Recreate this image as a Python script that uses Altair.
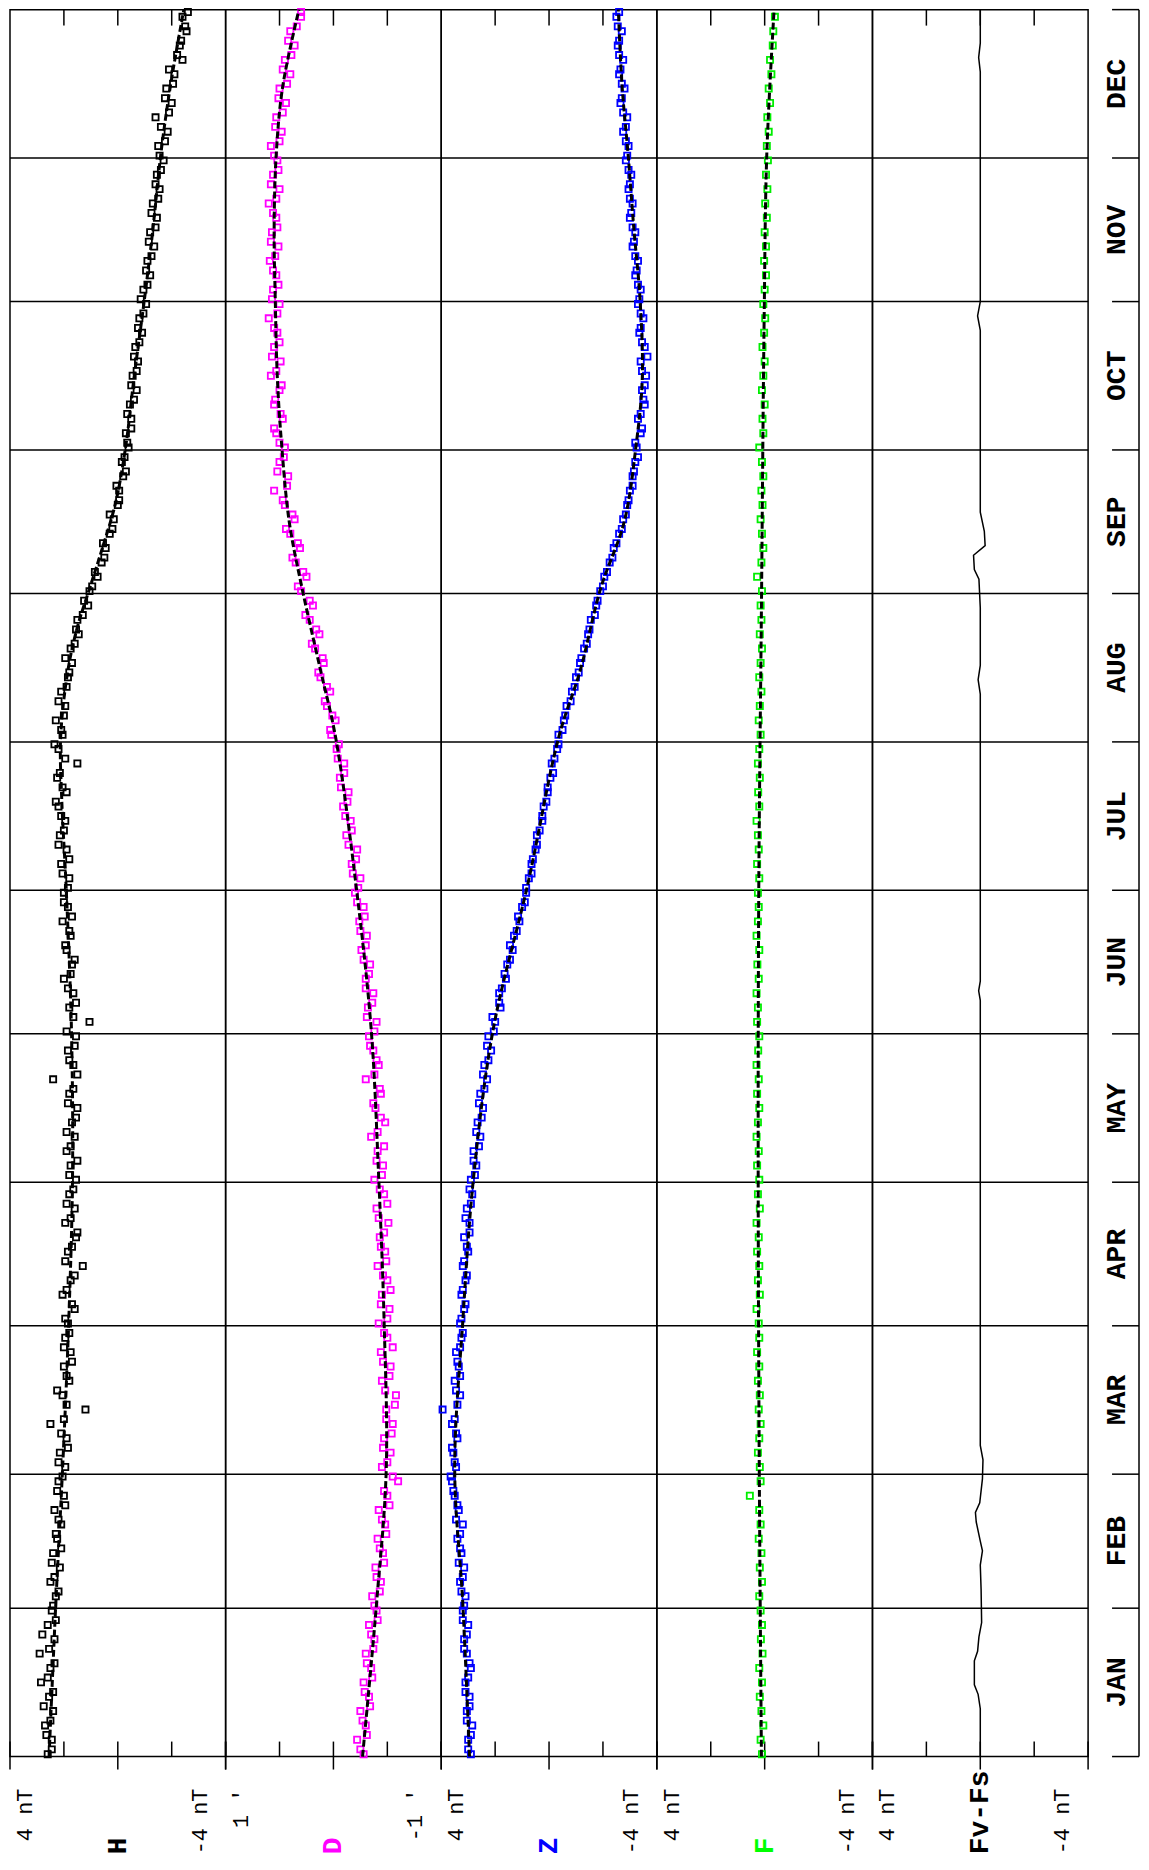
import altair as alt
import pandas as pd

# ---------------- data ----------------
MONTHS = ["JAN", "FEB", "MAR", "APR", "MAY", "JUN", "JUL", "AUG", "SEP", "OCT", "NOV", "DEC"]
MONTH_EDGES = [0, 31, 59, 90, 120, 151, 181, 212, 243, 273, 304, 334, 365]
MONTH_MID = [15.5, 45, 74.5, 105, 135.5, 166, 196.5, 227.5, 258, 288.5, 319, 349.5]

# daily baseline differences: set A sampled on days 1,4,7,...; set B on days 2,5,8,...
H_VALS = [2.6, 2.45, 2.7, 2.4, 2.55, 2.85, 2.5, 2.9, 2.35, 2.6,
          2.45, 2.3, 2.5, 2.15, 2.4, 2.25, 2.1, 2.35, 2.0, 2.2,
          1.95, 2.15, 1.9, 2.5, 1.2, 2.05, 1.8, 2.0, 1.75, 1.95,
          1.85, 1.6, 2.05, 1.75, 1.3, 1.85, 1.55, 1.95, 1.6, 1.8,
          1.55, 1.75, 1.9, 1.6, 1.7, 1.5, 1.8, 2.4, 1.65, 1.85,
          1.55, 1.05, 1.8, 1.65, 2.0, 1.7, 1.9, 1.75, 2.05, 1.85,
          2.0, 1.8, 2.1, 1.9, 2.15, 1.95, 2.2, 1.9, 2.25, 1.5,
          2.2, 2.05, 2.3, 1.95, 2.1, 1.85, 1.7, 1.75, 1.45, 1.5,
          1.1, 1.05, 0.75, 0.6, 0.45, 0.3, 0.15, 0.0, -0.05, -0.2,
          -0.15, -0.4, -0.3, -0.5, -0.45, -0.7, -0.55, -0.75, -0.65, -0.9,
          -0.8, -1.05, -0.95, -1.2, -1.1, -1.35, -1.2, -1.45, -1.3, -1.55,
          -1.45, -1.7, -1.5, -1.85, -1.4, -2.0, -1.8, -2.1, -2.4, -2.3,
          -2.55, -2.4]
H_VALS_B = [2.45, 2.65, 2.5, 2.75, 2.4, 2.6, 2.35, 2.55, 2.8, 2.3,
            2.4, 2.2, 2.35, 2.45, 2.1, 2.3, 2.2, 1.95, 2.25, 2.05,
            2.2, 1.85, 2.1, 2.0, 1.9, 2.25, 1.9, 1.7, 2.0, 1.8,
            1.95, 1.7, 1.9, 1.6, 1.95, 1.7, 1.5, 1.75, 1.9, 1.65,
            1.8, 1.5, 1.75, 1.9, 1.55, 1.85, 1.65, 1.5, 1.8, 1.6,
            1.9, 1.65, 1.55, 1.85, 1.75, 1.6, 1.95, 1.8, 1.7, 2.0,
            1.85, 2.05, 1.8, 2.2, 2.0, 2.1, 2.3, 2.05, 2.15, 1.95,
            2.35, 2.1, 2.0, 2.2, 1.9, 1.8, 1.95, 1.6, 1.55, 1.3,
            1.25, 0.95, 0.85, 0.5, 0.55, 0.2, 0.3, -0.05, 0.05, -0.3,
            -0.25, -0.35, -0.5, -0.35, -0.6, -0.5, -0.7, -0.6, -0.8, -0.75,
            -0.95, -0.85, -1.1, -1.05, -1.25, -1.15, -1.4, -1.25, -1.5, -1.4,
            -1.6, -1.55, -1.75, -1.6, -1.9, -1.75, -2.05, -1.9, -2.2, -2.35,
            -2.5, -2.6]
D_VALS = [-0.28, -0.22, -0.3, -0.25, -0.33, -0.28, -0.35, -0.3, -0.38, -0.33,
          -0.4, -0.36, -0.44, -0.39, -0.46, -0.41, -0.48, -0.42, -0.5, -0.6,
          -0.45, -0.53, -0.47, -0.55, -0.49, -0.58, -0.45, -0.53, -0.44, -0.5,
          -0.42, -0.52, -0.45, -0.5, -0.41, -0.48, -0.43, -0.51, -0.4, -0.47,
          -0.38, -0.46, -0.41, -0.35, -0.48, -0.39, -0.44, -0.3, -0.42, -0.37,
          -0.33, -0.4, -0.32, -0.37, -0.3, -0.34, -0.26, -0.31, -0.24, -0.28,
          -0.2, -0.25, -0.17, -0.22, -0.12, -0.16, -0.09, -0.14, -0.06, -0.1,
          -0.03, 0.02, -0.02, 0.06, 0.03, 0.12, 0.09, 0.17, 0.13, 0.22,
          0.19, 0.3, 0.25, 0.35, 0.31, 0.4, 0.36, 0.45, 0.55, 0.42,
          0.5, 0.45, 0.53, 0.47, 0.55, 0.5, 0.58, 0.49, 0.55, 0.52,
          0.6, 0.5, 0.56, 0.53, 0.59, 0.51, 0.57, 0.53, 0.6, 0.5,
          0.56, 0.52, 0.58, 0.48, 0.53, 0.44, 0.5, 0.4, 0.45, 0.36,
          0.4, 0.3]
D_VALS_B = [-0.25, -0.31, -0.27, -0.34, -0.29, -0.36, -0.31, -0.37, -0.35, -0.41,
            -0.38, -0.43, -0.4, -0.47, -0.43, -0.49, -0.45, -0.52, -0.47, -0.55,
            -0.5, -0.46, -0.54, -0.49, -0.57, -0.48, -0.52, -0.46, -0.55, -0.47,
            -0.5, -0.44, -0.53, -0.46, -0.49, -0.44, -0.47, -0.42, -0.5, -0.43,
            -0.45, -0.4, -0.47, -0.41, -0.44, -0.37, -0.43, -0.38, -0.4, -0.34,
            -0.38, -0.31, -0.36, -0.3, -0.33, -0.28, -0.3, -0.25, -0.29, -0.22,
            -0.23, -0.18, -0.21, -0.14, -0.17, -0.11, -0.13, -0.07, -0.1, -0.04,
            -0.05, 0.03, 0.01, 0.08, 0.06, 0.14, 0.1, 0.2, 0.16, 0.26,
            0.22, 0.33, 0.28, 0.38, 0.33, 0.44, 0.38, 0.47, 0.43, 0.52,
            0.46, 0.5, 0.55, 0.49, 0.54, 0.48, 0.53, 0.57, 0.5, 0.55,
            0.52, 0.57, 0.51, 0.56, 0.54, 0.58, 0.52, 0.56, 0.53, 0.58,
            0.51, 0.55, 0.5, 0.54, 0.47, 0.51, 0.43, 0.47, 0.39, 0.42,
            0.34, 0.3]
Z_VALS = [2.9, 3.0, 2.85, 3.05, 2.95, 3.1, 2.9, 3.05, 3.15, 3.0,
          3.2, 3.1, 3.3, 3.15, 3.25, 3.4, 3.2, 3.35, 3.5, 3.6,
          3.45, 3.55, 3.4, 3.6, 3.95, 3.3, 3.5, 3.35, 3.45, 3.25,
          3.3, 3.15, 3.25, 3.1, 3.2, 3.0, 3.15, 2.95, 3.05, 2.85,
          2.9, 2.7, 2.8, 2.55, 2.65, 2.45, 2.55, 2.3, 2.4, 2.15,
          2.25, 2.0, 1.8, 1.85, 1.6, 1.55, 1.35, 1.3, 1.1, 1.0,
          0.85, 0.75, 0.65, 0.5, 0.45, 0.25, 0.2, 0.05, -0.05, -0.1,
          -0.3, -0.35, -0.55, -0.65, -0.85, -1.0, -1.15, -1.3, -1.45, -1.55,
          -1.75, -1.9, -2.05, -2.25, -2.4, -2.6, -2.75, -2.9, -3.0, -3.1,
          -3.2, -3.25, -3.4, -3.3, -3.55, -3.45, -3.6, -3.4, -3.55, -3.35,
          -3.5, -3.3, -3.4, -3.2, -3.3, -3.1, -3.2, -3.0, -3.1, -2.95,
          -3.05, -2.85, -2.95, -2.75, -2.9, -2.65, -2.8, -2.6, -2.75, -2.55,
          -2.7, -2.5]
Z_VALS_B = [3.0, 2.9, 3.05, 2.95, 3.1, 3.0, 2.95, 3.15, 3.05, 3.2,
            3.15, 3.25, 3.2, 3.35, 3.3, 3.3, 3.45, 3.4, 3.55, 3.65,
            3.5, 3.6, 3.45, 3.5, 3.4, 3.45, 3.3, 3.4, 3.3, 3.2,
            3.25, 3.1, 3.2, 3.05, 3.15, 3.05, 2.95, 3.1, 2.9, 2.95,
            2.75, 2.8, 2.6, 2.7, 2.5, 2.6, 2.4, 2.45, 2.25, 2.3,
            2.05, 2.1, 1.85, 1.75, 1.65, 1.45, 1.45, 1.2, 1.15, 0.9,
            0.85, 0.65, 0.6, 0.45, 0.35, 0.25, 0.1, 0.05, -0.15, -0.2,
            -0.35, -0.5, -0.6, -0.8, -0.95, -1.1, -1.2, -1.4, -1.5, -1.7,
            -1.8, -2.0, -2.15, -2.35, -2.5, -2.7, -2.85, -2.95, -3.1, -3.15,
            -3.3, -3.2, -3.45, -3.4, -3.5, -3.55, -3.45, -3.65, -3.45, -3.4,
            -3.4, -3.35, -3.3, -3.25, -3.2, -3.15, -3.1, -3.05, -3.0, -3.0,
            -2.95, -2.9, -2.85, -2.85, -2.75, -2.7, -2.7, -2.65, -2.6, -2.6,
            -2.55, -2.6]
F_VALS = [0.1, 0.15, 0.05, 0.12, 0.18, 0.1, 0.2, 0.08, 0.14, 0.1,
          0.15, 0.2, 0.1, 0.18, 0.12, 0.22, 0.15, 0.2, 0.55, 0.15,
          0.18, 0.25, 0.2, 0.15, 0.22, 0.18, 0.25, 0.2, 0.28, 0.2,
          0.22, 0.3, 0.18, 0.25, 0.2, 0.28, 0.22, 0.3, 0.18, 0.25,
          0.2, 0.28, 0.22, 0.3, 0.25, 0.2, 0.28, 0.22, 0.3, 0.24,
          0.2, 0.28, 0.25, 0.3, 0.22, 0.27, 0.2, 0.3, 0.25, 0.22,
          0.25, 0.2, 0.28, 0.22, 0.25, 0.3, 0.2, 0.24, 0.18, 0.25,
          0.2, 0.15, 0.22, 0.18, 0.12, 0.2, 0.15, 0.1, 0.18, 0.12,
          0.15, 0.1, 0.28, 0.12, 0.05, 0.1, 0.15, 0.08, 0.12, 0.05,
          0.1, 0.2, 0.05, 0.08, 0.0, 0.1, 0.05, 0.0, 0.08, 0.02,
          -0.02, 0.05, 0.0, -0.05, 0.02, -0.05, 0.0, -0.08, -0.02, -0.1,
          -0.05, -0.12, -0.08, -0.15, -0.1, -0.2, -0.15, -0.25, -0.2, -0.3,
          -0.32, -0.38]

# smooth baseline fits (dashed)
H_FIT_DAYS = [0, 32, 60, 91, 121, 152, 182, 200, 213, 227, 236, 244, 252, 262, 274, 288, 305, 319, 335, 349, 365]
H_FIT = [2.55, 2.3, 2.05, 1.82, 1.68, 1.72, 1.92, 2.08, 2.12, 1.85, 1.5, 1.05, 0.6, 0.08, -0.3, -0.6, -1.0, -1.3, -1.6, -1.95, -2.45]
DZ_FIT_DAYS = [0, 32, 60, 91, 121, 152, 182, 213, 227, 244, 258, 274, 288, 305, 319, 335, 349, 365]
D_FIT = [-0.27, -0.4, -0.49, -0.47, -0.42, -0.35, -0.21, -0.02, 0.12, 0.29, 0.41, 0.48, 0.52, 0.54, 0.55, 0.53, 0.47, 0.32]
Z_FIT = [2.95, 3.2, 3.5, 3.2, 2.8, 2.07, 0.8, -0.36, -1.16, -1.91, -2.79, -3.23, -3.46, -3.37, -3.15, -2.93, -2.71, -2.57]
F_FIT_DAYS = [0, 60, 120, 180, 240, 300, 335, 365]
F_FIT = [0.12, 0.2, 0.24, 0.22, 0.12, 0.02, -0.08, -0.35]

# Fv - Fs difference
FS_DAYS = [0, 10, 13, 15, 20, 22, 25, 28, 35, 40, 43, 45, 49, 51, 53, 58, 62, 65, 90, 120,
           150, 158, 160, 162, 180, 200, 222, 225, 228, 240, 246, 248, 251, 253, 256, 260, 270, 298, 301, 304,
           330, 352, 355, 358, 365]
FS_VALS = [0.0, 0.0, 0.08, 0.22, 0.22, 0.1, 0.05, -0.05, -0.03, 0.0, -0.08, 0.0, 0.15, 0.18, 0.02, -0.08, -0.1, 0.0, 0.0, 0.0,
           0.0, 0.0, 0.06, 0.0, 0.0, 0.0, 0.0, 0.08, 0.0, 0.0, 0.05, 0.22, 0.25, -0.18, -0.15, 0.0, 0.0, 0.0, 0.1, 0.0,
           0.0, 0.0, 0.06, 0.0, 0.0]

# ---------------- layout ----------------
W = 216
HT = 1750
MW = 52
FONT = "Liberation Mono"
Y_SCALE = alt.Scale(domain=[0, 365], nice=False, zero=False)


def Ych(field="doy"):
    return alt.Y(f"{field}:Q", scale=Y_SCALE, axis=None)


def make_panel(lim, left_txt, right_txt, name, name_color,
               pts=None, pts_b=None, pt_color=None, fit=None, fs=None):
    xs = alt.Scale(domain=[lim, -lim], nice=False, zero=False)

    def Xch():
        return alt.X("v:Q", scale=xs, axis=None)

    layers = []
    grid_df = pd.DataFrame({"doy": MONTH_EDGES[1:-1]})
    layers.append(alt.Chart(grid_df).mark_rule(color="black", strokeWidth=1.5)
                  .encode(y=Ych(), x=alt.value(0), x2=alt.value(W)))
    major = pd.DataFrame({"v": [lim, 0, -lim]})
    layers.append(alt.Chart(major).mark_rule(color="black", strokeWidth=1.5)
                  .encode(x=Xch(), y=alt.value(HT - 15), y2=alt.value(HT + 13)))
    minor = pd.DataFrame({"v": [lim / 2, -lim / 2]})
    layers.append(alt.Chart(minor).mark_rule(color="black", strokeWidth=1.5)
                  .encode(x=Xch(), y=alt.value(HT - 15), y2=alt.value(HT)))
    top = pd.DataFrame({"v": [lim / 2, 0, -lim / 2]})
    layers.append(alt.Chart(top).mark_rule(color="black", strokeWidth=1.5)
                  .encode(x=Xch(), y=alt.value(0), y2=alt.value(16)))

    if pts is not None:
        days = [1 + 3 * i - 0.5 for i in range(len(pts))]
        vals = list(pts)
        if pts_b is not None:
            days += [2 + 3 * i - 0.5 for i in range(len(pts_b))]
            vals += list(pts_b)
        pdf = pd.DataFrame({"doy": days, "v": vals})
        layers.append(alt.Chart(pdf).mark_point(shape="square", filled=False, size=38,
                                                strokeWidth=1.8, color=pt_color, opacity=1)
                      .encode(x=Xch(), y=Ych()))
    if fit is not None:
        fdf = pd.DataFrame({"doy": fit[0], "v": fit[1]})
        layers.append(alt.Chart(fdf).mark_line(color="black", strokeWidth=3,
                                               strokeDash=[7, 3], interpolate="catmull-rom")
                      .encode(x=Xch(), y=Ych(), order="doy:Q"))
    if fs is not None:
        sdf = pd.DataFrame({"doy": fs[0], "v": fs[1]})
        layers.append(alt.Chart(sdf).mark_line(color="black", strokeWidth=1.5)
                      .encode(x=Xch(), y=Ych(), order="doy:Q"))

    ldf = pd.DataFrame({"v": [lim], "t": [left_txt]})
    layers.append(alt.Chart(ldf).mark_text(angle=270, align="right", baseline="middle", dy=15,
                                           fontSize=22, font=FONT, color="black")
                  .encode(x=Xch(), y=alt.value(1782), text="t:N"))
    rdf = pd.DataFrame({"v": [-lim], "t": [right_txt]})
    layers.append(alt.Chart(rdf).mark_text(angle=270, align="right", baseline="middle", dy=-26,
                                           fontSize=22, font=FONT, color="black")
                  .encode(x=Xch(), y=alt.value(1782), text="t:N"))
    ndf = pd.DataFrame({"v": [0], "t": [name]})
    layers.append(alt.Chart(ndf).mark_text(angle=270, align="left", baseline="middle",
                                           fontSize=28, fontWeight="bold", font=FONT, color=name_color)
                  .encode(x=Xch(), y=alt.value(1848), text="t:N"))

    return alt.layer(*layers).properties(width=W, height=HT)


p_h = make_panel(4, "4 nT", "-4 nT", "H", "black", H_VALS, H_VALS_B, "black", (H_FIT_DAYS, H_FIT))
p_d = make_panel(1, "1 '\u00a0", "-1 '\u00a0", "D", "#ff00ff", D_VALS, D_VALS_B, "#ff00ff", (DZ_FIT_DAYS, D_FIT))
p_z = make_panel(4, "4 nT", "-4 nT", "Z", "#0000ff", Z_VALS, Z_VALS_B, "#0000ff", (DZ_FIT_DAYS, Z_FIT))
p_f = make_panel(4, "4 nT", "-4 nT", "F", "#00ff00", F_VALS, None, "#00ee00", (F_FIT_DAYS, F_FIT))
p_s = make_panel(4, "4 nT", "-4 nT", "Fv-Fs", "black", fs=(FS_DAYS, FS_VALS))

# month column
edges_df = pd.DataFrame({"doy": MONTH_EDGES})
m_ticks = alt.Chart(edges_df).mark_rule(color="black", strokeWidth=1.5).encode(
    y=Ych(), x=alt.value(MW - 28), x2=alt.value(MW - 1))
vdf = pd.DataFrame({"a": [0], "b": [365]})
m_vline = alt.Chart(vdf).mark_rule(color="black", strokeWidth=1.5).encode(
    y=Ych("a"), y2="b:Q", x=alt.value(MW - 1))
mdf = pd.DataFrame({"doy": MONTH_MID, "m": MONTHS})
m_lab = alt.Chart(mdf).mark_text(angle=270, align="center", baseline="middle", fontSize=28,
                                 fontWeight="bold", font=FONT, color="black").encode(
    y=Ych(), x=alt.value(MW - 23), text="m:N")
month_col = alt.layer(m_ticks, m_vline, m_lab).properties(
    width=MW, height=HT, view=alt.ViewBackground(stroke="transparent"))

chart = alt.hconcat(p_h, p_d, p_z, p_f, p_s, month_col, spacing=0, bounds="flush").properties(
    padding={"left": 0, "top": -7, "right": 0, "bottom": 0},
    background="white",
).configure_view(stroke="black", strokeWidth=1.5)

chart.save("out.html", embed_options={"renderer": "svg", "actions": False})
